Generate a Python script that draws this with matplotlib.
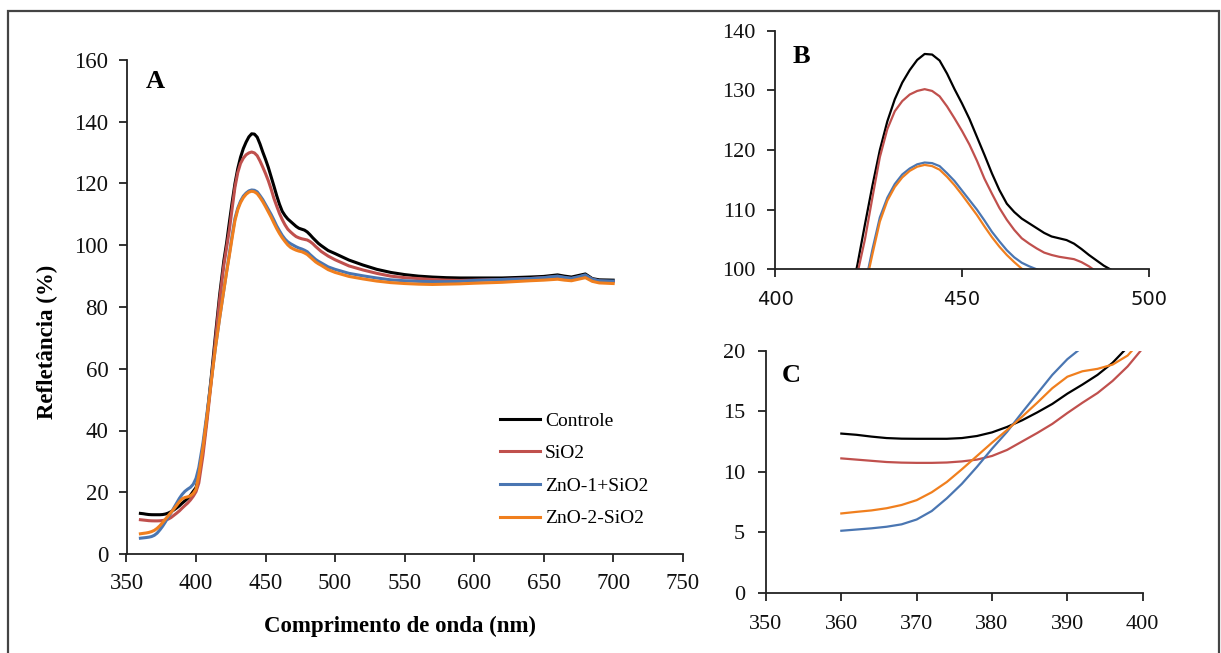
import matplotlib
matplotlib.use('Agg')
import matplotlib.pyplot as plt
from matplotlib.patches import Rectangle

plt.rcParams['font.family'] = ['Liberation Serif', 'DejaVu Serif']

W, H = 1221, 653

# comprimento de onda (nm)
wl = [360, 362, 364, 366, 368, 370, 372, 374, 376, 378, 380, 382, 384, 386, 388, 390, 392, 394, 396, 398, 400,
      402, 405, 408, 411, 414, 417, 420,
      422, 424, 426, 428, 430, 432, 434, 436, 438, 440, 442, 444, 446, 448, 450, 452, 454, 456, 458, 460,
      462, 464, 466, 468, 470, 472, 474, 476, 478, 480, 482, 484, 486, 488, 490,
      495, 500, 510, 520, 530, 540, 550, 560, 570, 580, 590, 600,
      620, 640, 650, 660, 665, 670, 675, 680, 685, 690, 700]

controle = [13.15, 13.05, 12.9, 12.78, 12.73, 12.72, 12.72, 12.72, 12.78, 12.95, 13.25, 13.7, 14.25, 14.9, 15.6,
            16.45, 17.2, 18.0, 19.0, 20.3, 21.5,
            25.0, 34.0, 45.0, 57.5, 71.0, 84.0, 95.0,
            100.8, 107.5, 114.0, 120.0, 124.8, 128.5, 131.3, 133.4, 135.1, 136.1,
            136.0, 135.0, 132.8, 130.2, 127.8, 125.2, 122.2, 119.2, 116.1, 113.3,
            111.0, 109.6, 108.5, 107.7, 106.9, 106.1, 105.5, 105.2, 104.9, 104.3,
            103.4, 102.4, 101.5, 100.6, 99.9,
            98.3, 97.3, 95.2, 93.6, 92.2, 91.2, 90.5, 90.0, 89.7, 89.5, 89.4, 89.4,
            89.4, 89.7, 89.9, 90.4, 90.0, 89.7, 90.2, 90.7, 89.2, 88.8, 88.7]

sio2 = [11.1, 11.0, 10.9, 10.8, 10.75, 10.73, 10.73, 10.76, 10.85, 11.0, 11.3, 11.8, 12.5, 13.2, 13.95,
        14.85, 15.7, 16.5, 17.5, 18.7, 20.2,
        23.0, 32.0, 43.5, 56.0, 69.5, 82.5, 93.5,
        99.3, 105.0, 112.0, 118.8, 123.5, 126.5, 128.2, 129.3, 129.9, 130.2,
        129.9, 129.0, 127.3, 125.3, 123.2, 120.9, 118.2, 115.2, 112.7, 110.3,
        108.3, 106.6, 105.2, 104.3, 103.5, 102.8, 102.4, 102.1, 101.9, 101.7,
        101.2, 100.5, 99.6, 98.8, 98.0,
        96.5, 95.3, 93.3, 92.0, 90.9, 90.0, 89.5, 89.2, 88.9, 88.7, 88.6, 88.7,
        88.9, 89.2, 89.5, 89.9, 89.5, 89.2, 89.7, 90.2, 89.0, 88.4, 88.2]

zno1_sio2 = [5.12, 5.22, 5.32, 5.45, 5.65, 6.05, 6.75, 7.8, 9.0, 10.4, 11.9, 13.3, 14.9, 16.45, 18.0,
             19.3, 20.3, 21.0, 21.6, 22.6, 24.5,
             28.0, 36.0, 46.0, 56.5, 67.0, 76.5, 85.5,
             91.5, 97.3, 103.3, 108.7, 112.0, 114.3, 115.9, 116.9, 117.6, 117.9,
             117.8, 117.3, 116.1, 114.8, 113.2, 111.6, 110.0, 108.2, 106.3, 104.7,
             103.2, 102.0, 101.1, 100.5, 100.0, 99.5, 99.1, 98.8, 98.4, 97.9,
             97.0, 96.2, 95.4, 94.8, 94.3,
             93.0, 92.2, 90.9, 90.1, 89.4, 88.8, 88.5, 88.3, 88.2, 88.2, 88.3, 88.6,
             88.9, 89.2, 89.5, 90.0, 89.6, 89.3, 89.8, 90.4, 89.0, 88.5, 88.4]

zno2_sio2 = [6.55, 6.68, 6.8, 6.98, 7.25, 7.65, 8.3, 9.15, 10.2, 11.3, 12.4, 13.45, 14.55, 15.7, 16.9,
             17.85, 18.3, 18.5, 18.85, 19.6, 21.0,
             25.5, 34.5, 45.0, 56.0, 67.0, 76.5, 85.5,
             91.3, 96.8, 102.5, 108.0, 111.5, 113.8, 115.4, 116.5, 117.2, 117.5,
             117.3, 116.7, 115.5, 114.1, 112.5, 110.8, 109.1, 107.2, 105.4, 103.8,
             102.4, 101.2, 100.1, 99.3, 98.8, 98.4, 98.1, 97.9, 97.5, 97.0,
             96.2, 95.4, 94.6, 94.0, 93.5,
             92.1, 91.2, 89.9, 89.1, 88.4, 87.9, 87.6, 87.4, 87.3, 87.4, 87.5, 87.7,
             88.0, 88.5, 88.7, 89.0, 88.7, 88.5, 89.0, 89.5, 88.3, 87.8, 87.6]

nomes = ['Controle', 'SiO2', 'ZnO-1+SiO2', 'ZnO-2-SiO2']
cores = ['#000000', '#C0504D', '#4A76B2', '#F07F1E']
series = [controle, sio2, zno1_sio2, zno2_sio2]


def px_axes(left, top, right, bottom):
    """cria eixos a partir de coordenadas em pixels da imagem"""
    return fig.add_axes([left / W, 1 - bottom / H, (right - left) / W, (bottom - top) / H])


def estilo(ax, xfont, yfont, xsize, ysize, pad_x, pad_y):
    for s in ['top', 'right']:
        ax.spines[s].set_visible(False)
    for s in ['left', 'bottom']:
        ax.spines[s].set_linewidth(1.3)
        ax.spines[s].set_color('#222222')
    ax.tick_params(axis='both', direction='out', length=6, width=1.3, color='#222222')
    ax.tick_params(axis='x', pad=pad_x)
    ax.tick_params(axis='y', pad=pad_y)
    for lb in ax.get_xticklabels():
        lb.set_fontfamily(xfont)
        lb.set_fontsize(xsize)
        lb.set_color('#111111')
    for lb in ax.get_yticklabels():
        lb.set_fontfamily(yfont)
        lb.set_fontsize(ysize)
        lb.set_color('#111111')


fig = plt.figure(figsize=(W / 100, H / 100), dpi=100)

# moldura
fig.add_artist(Rectangle((8 / W, -0.02), (1219 - 8) / W, 1.02 - 11 / H, transform=fig.transFigure,
                         fill=False, ec='#444444', lw=1.6))

# painel A
axA = px_axes(126.5, 60, 682.7, 554)
for nome, cor, ys in zip(nomes, cores, series):
    axA.plot(wl, ys, color=cor, lw=2.2, label=nome)
axA.set_xlim(350, 750)
axA.set_ylim(0, 160)
axA.set_xticks(range(350, 751, 50))
axA.set_yticks(range(0, 161, 20))
estilo(axA, 'Liberation Serif', 'Liberation Serif', 16.5, 16.5, 8, 7)
axA.text(146 / W, 1 - 88 / H, 'A', transform=fig.transFigure, fontsize=19, fontweight='bold')
fig.text(400 / W, 1 - 626 / H, 'Comprimento de onda (nm)', ha='center', va='center',
         fontsize=16.5, fontweight='bold')
fig.text(47 / W, 1 - 342 / H, 'Refletância (%)', ha='center', va='center', rotation=90,
         fontsize=16.5, fontweight='bold')
axA.legend(loc='upper left', bbox_to_anchor=(500 / W, 1 - 412 / H), bbox_transform=fig.transFigure,
           frameon=False, fontsize=14, handlelength=2.05, handletextpad=0.26, labelspacing=0.77,
           borderpad=0, borderaxespad=0)

# painel B
axB = px_axes(775.3, 30.7, 1148.7, 269.3)
for cor, ys in zip(cores, series):
    axB.plot(wl, ys, color=cor, lw=1.6)
axB.set_xlim(400, 500)
axB.set_ylim(100, 140)
axB.set_xticks([400, 450, 500])
axB.set_yticks(range(100, 141, 10))
estilo(axB, 'DejaVu Sans', 'Liberation Serif', 14, 16, 9, 8)
axB.text(793 / W, 1 - 63 / H, 'B', transform=fig.transFigure, fontsize=19, fontweight='bold')

# painel C
axC = px_axes(766, 350.7, 1142.7, 592.7)
for cor, ys in zip(cores, series):
    axC.plot(wl, ys, color=cor, lw=1.6)
axC.set_xlim(350, 400)
axC.set_ylim(0, 20)
axC.set_xticks(range(350, 401, 10))
axC.set_yticks(range(0, 21, 5))
estilo(axC, 'Liberation Serif', 'Liberation Serif', 16, 16, 10, 9)
axC.text(782 / W, 1 - 382 / H, 'C', transform=fig.transFigure, fontsize=19, fontweight='bold')

fig.savefig('out.png', dpi=100)
